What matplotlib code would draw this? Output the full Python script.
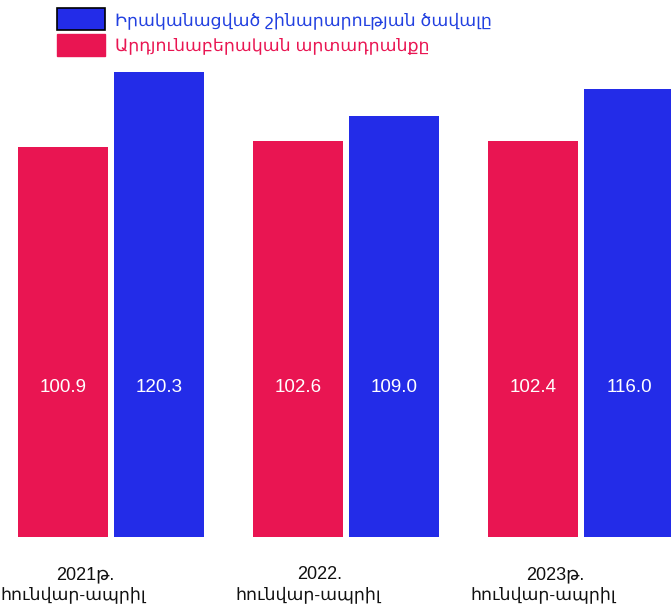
import matplotlib
matplotlib.use("Agg")
import matplotlib.pyplot as plt
from matplotlib.patches import Patch
import numpy as np

# տվյալներ
years = ["2021թ.", "2022.", "2023թ."]
months = ["հունվար-ապրիլ", "հունվար-ապրիլ", "հունվար-ապրիլ"]
industry = [100.9, 102.6, 102.4]       # Արդյունաբերական արտադրանքը
construction = [120.3, 109.0, 116.0]   # Իրականացված շինարարության ծավալը
series_names = ["Իրականացված շինարարության ծավալը", "Արդյունաբերական արտադրանքը"]

RED = "#E91552"
BLUE = "#232CE8"

plt.rcParams['font.family'] = ['Liberation Sans', 'DejaVu Sans']

fig = plt.figure(figsize=(6.71, 6.08), dpi=100)
ax = fig.add_axes([0, 71 / 608, 1, 537 / 608])

x = np.arange(len(years))
bar_w = 0.385
off = 0.205
bars_red = ax.bar(x - off, industry, width=bar_w, color=RED, zorder=2)
bars_blue = ax.bar(x + off, construction, width=bar_w, color=BLUE, zorder=2)

# արժեքները սյուների ներսում
label_y = 38.6
for bars, vals in [(bars_red, industry), (bars_blue, construction)]:
    for b, v in zip(bars, vals):
        ax.text(b.get_x() + b.get_width() / 2, label_y, f"{v:.1f}",
                ha='center', va='center', color='white', fontsize=13.5)

ax.set_xlim(-0.472, 2.383)
ax.set_ylim(0, 139)
ax.set_yticks([])
# տարիները՝ առաջին տող, ամիսները՝ երկրորդ
ax.set_xticks(x - 0.11, years)
ax.tick_params(axis='x', length=0, pad=21, labelsize=13)
for xi, m in zip(x, months):
    ax.text(xi - 0.16, -0.108, m, transform=ax.get_xaxis_transform(),
            ha='center', va='center', fontsize=12.5, color='#111111')
for lbl in ax.get_xticklabels():
    lbl.set_color('#111111')
for s in ax.spines.values():
    s.set_visible(False)
ax.patch.set_alpha(0)

handles = [Patch(facecolor=BLUE, edgecolor='black', linewidth=1.2),
           Patch(facecolor=RED, edgecolor=RED)]
leg = fig.legend(handles, series_names, loc='upper left',
                 bbox_to_anchor=(57 / 671, 1 - 8 / 608), frameon=False,
                 fontsize=12.5, handlelength=2.75, handleheight=1.6,
                 handletextpad=0.6, labelspacing=0.2, borderpad=0,
                 borderaxespad=0)
for txt, c in zip(leg.get_texts(), ["#2240E0", RED]):
    txt.set_color(c)

fig.savefig("out.png", dpi=100)
